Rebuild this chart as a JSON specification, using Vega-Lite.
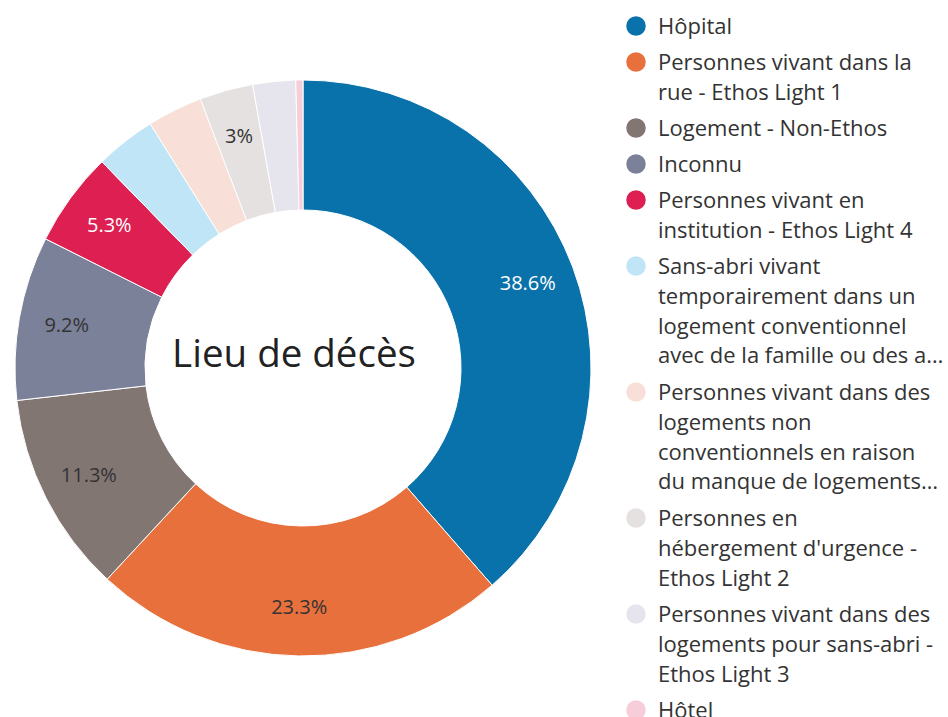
{
  "$schema": "https://vega.github.io/schema/vega-lite/v6.json",
  "width": 576,
  "height": 576,
  "autosize": {"type": "none"},
  "padding": {"left": 15, "top": 80, "right": 357, "bottom": 61},
  "background": "white",
  "config": {
    "view": {"stroke": null},
    "font": "Open Sans",
    "style": {"guide-label": {"lineHeight": 29.8, "dy": -9}}
  },
  "data": {
    "values": [
      {"category": "Hôpital", "value": 38.6, "label": "38.6%"},
      {"category": "Personnes vivant dans la\nrue - Ethos Light 1", "value": 23.3, "label": "23.3%"},
      {"category": "Logement - Non-Ethos", "value": 11.3, "label": "11.3%"},
      {"category": "Inconnu", "value": 9.2, "label": "9.2%"},
      {"category": "Personnes vivant en\ninstitution - Ethos Light 4", "value": 5.3, "label": "5.3%"},
      {"category": "Sans-abri vivant\ntemporairement dans un\nlogement conventionnel\navec de la famille ou des a…", "value": 3.4, "label": ""},
      {"category": "Personnes vivant dans des\nlogements non\nconventionnels en raison\ndu manque de logements…", "value": 3.1, "label": ""},
      {"category": "Personnes en\nhébergement d'urgence -\nEthos Light 2", "value": 3.0, "label": "3%"},
      {"category": "Personnes vivant dans des\nlogements pour sans-abri -\nEthos Light 3", "value": 2.4, "label": ""},
      {"category": "Hôtel", "value": 0.4, "label": ""}
    ]
  },
  "encoding": {
    "theta": {"field": "value", "type": "quantitative", "stack": true},
    "order": {"field": "value", "type": "quantitative", "sort": "descending"}
  },
  "layer": [
    {
      "mark": {"type": "arc", "outerRadius": 288, "innerRadius": 158, "stroke": "white", "strokeWidth": 1},
      "encoding": {
        "color": {
          "field": "category",
          "type": "nominal",
          "sort": null,
          "scale": {
            "domain": [
              "Hôpital",
              "Personnes vivant dans la\nrue - Ethos Light 1",
              "Logement - Non-Ethos",
              "Inconnu",
              "Personnes vivant en\ninstitution - Ethos Light 4",
              "Sans-abri vivant\ntemporairement dans un\nlogement conventionnel\navec de la famille ou des a…",
              "Personnes vivant dans des\nlogements non\nconventionnels en raison\ndu manque de logements…",
              "Personnes en\nhébergement d'urgence -\nEthos Light 2",
              "Personnes vivant dans des\nlogements pour sans-abri -\nEthos Light 3",
              "Hôtel"
            ],
            "range": ["#0a72ab", "#e8703c", "#827672", "#7b8199", "#dd1f52", "#c0e5f7", "#f8e0d9", "#e5e1e0", "#e6e5ed", "#f6cdd8"]
          },
          "legend": {
            "title": null,
            "orient": "none",
            "legendX": 610,
            "legendY": -65,
            "padding": 0,
            "symbolType": "circle",
            "symbolSize": 380,
            "symbolStrokeWidth": 0,
            "symbolOpacity": 1,
            "labelFont": "Open Sans",
            "labelFontSize": 22,
            "labelColor": "#333333",
            "labelLimit": 0,
            "labelOffset": 11,
            "labelBaseline": "top",
            "labelExpr": "split(datum.label, '\\n')",
            "rowPadding": 13
          }
        }
      }
    },
    {
      "mark": {"type": "text", "radius": 240, "fontSize": 20, "font": "Open Sans"},
      "encoding": {
        "text": {"field": "label"},
        "color": {
          "condition": {"test": "datum.category == 'Hôpital' || datum.value == 5.3", "value": "#ffffff"},
          "value": "#333333"
        }
      }
    },
    {
      "data": {"values": [{"title": "Lieu de décès"}]},
      "mark": {"type": "text", "fontSize": 38.5, "font": "Open Sans", "color": "#222222", "dx": -9, "dy": -13},
      "encoding": {"text": {"field": "title"}, "theta": null, "order": null}
    }
  ]
}
